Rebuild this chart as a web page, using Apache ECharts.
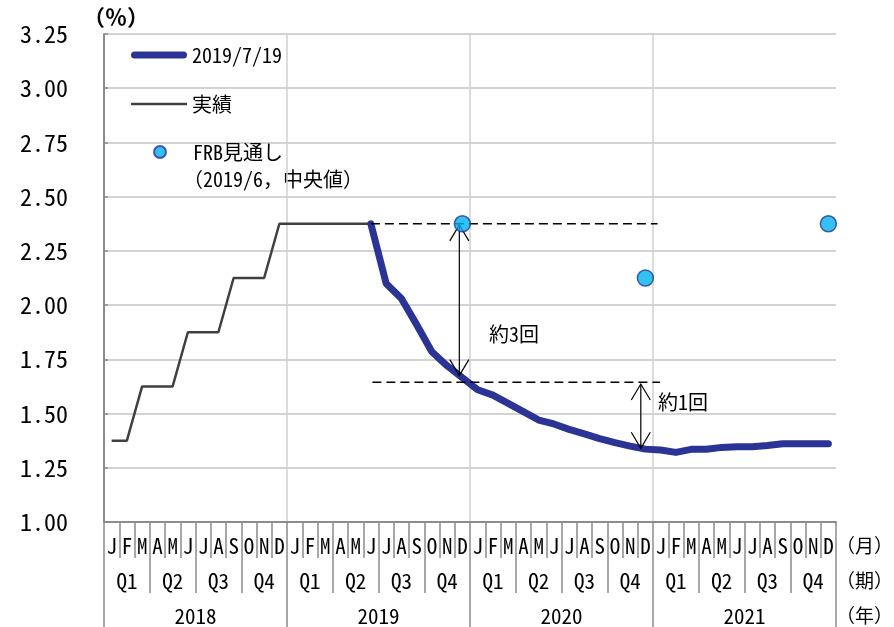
<!DOCTYPE html>
<html><head><meta charset="utf-8">
<script src="https://cdn.jsdelivr.net/npm/echarts@6/dist/echarts.min.js"></script>
<style>html,body{margin:0;padding:0;background:#fff}#c{width:894px;height:627px}</style>
</head><body><div id="c"></div>
<script>
// ---- data ----
const monthLetters = ['J','F','M','A','M','J','J','A','S','O','N','D'];
const quarterLabels = ['Q1','Q2','Q3','Q4'];
const yearLabels = ['2018','2019','2020','2021'];
// 実績: Jan 2018 - Jun 2019
const actualRates = [1.375,1.375,1.625,1.625,1.625,1.875,1.875,1.875,2.125,2.125,2.125,2.375,
                     2.375,2.375,2.375,2.375,2.375,2.375];
// 2019/7/19 path: Jun 2019 - Dec 2021
const futuresStart = '2019-06';
const futuresPath = [2.375,2.10,2.03,1.91,1.785,1.72,1.665,
                     1.61,1.585,1.547,1.509,1.47,1.452,1.427,1.406,1.384,1.366,1.35,1.336,
                     1.332,1.321,1.335,1.335,1.344,1.347,1.347,1.353,1.361,1.361,1.361,1.361];
// FRB見通し (2019/6, 中央値): year-end values
const frbYears = ['2019','2020','2021'];
const frbValues = [2.375,2.125,2.375];
// annotations (x in months from Jan 2018, y in %)
const dashedLevels = [[17.5, 36.3, 2.375], [17.6, 36.45, 1.644]];
const arrowSpans = [[23.3, 2.37, 1.675], [35.2, 1.636, 1.34]];

// ---- build ----
const months = [], quarters = [];
yearLabels.forEach(y => {
  monthLetters.forEach((m, i) => months.push(y + '-' + String(i + 1).padStart(2, '0')));
  quarterLabels.forEach(q => quarters.push(y + q));
});
const actualData = months.map((m, i) => i < actualRates.length ? actualRates[i] : null);
const startIdx = months.indexOf(futuresStart);
const futuresData = months.map((m, i) => (i >= startIdx && i - startIdx < futuresPath.length) ? futuresPath[i - startIdx] : null);
const frbData = months.map(m => {
  const k = frbYears.indexOf(m.slice(0, 4));
  return (k >= 0 && m.slice(5) === '12') ? frbValues[k] : null;
});

const MONO = "'Noto Sans Mono CJK JP','Liberation Mono','Noto Sans CJK JP',monospace";
const axisGray = '#8c8c8c';
const BLUE = '#2B3494';

const legendBase = {
  orient: 'vertical', left: 131, padding: 0,
  itemWidth: 56, itemHeight: 12,
  textStyle: { fontFamily: MONO, fontSize: 20, color: '#000' }
};

const chart = echarts.init(document.getElementById('c'));
chart.setOption({
  animation: false,
  backgroundColor: '#fff',
  grid: { left: 104, right: 58, top: 34, bottom: 105 },
  legend: [
    Object.assign({}, legendBase, { top: 45, data: [
      { name: '2019/7/19', icon: 'path://M3.5,0 H52.5 A3.5,3.5 0 0 1 52.5,7 H3.5 A3.5,3.5 0 0 1 3.5,0 Z',
        itemStyle: { color: BLUE } } ] }),
    Object.assign({}, legendBase, { top: 94, data: [
      { name: '実績', icon: 'path://M0,0 H52 V2.5 H0 Z', itemStyle: { color: '#404040' } } ] }),
    Object.assign({}, legendBase, { top: 142, left: 153, data: [ { name: 'FRB見通し' } ] })
  ],
  xAxis: [
    { type: 'category', data: months, position: 'bottom', boundaryGap: true,
      axisLine: { show: true, lineStyle: { color: axisGray, width: 2 } },
      axisTick: { show: true, interval: 0, length: 36, lineStyle: { color: axisGray, width: 1.5 } },
      axisLabel: { show: true, interval: 0, margin: 14, fontFamily: MONO, fontSize: 21, color: '#000',
        formatter: v => monthLetters[+v.slice(5) - 1] },
      splitLine: { show: false } },
    { type: 'category', data: quarters, position: 'bottom', boundaryGap: true,
      axisLine: { show: false },
      axisTick: { show: true, interval: 0, length: 71, lineStyle: { color: axisGray, width: 1.5 } },
      axisLabel: { show: true, interval: 0, margin: 49, fontFamily: MONO, fontSize: 21, color: '#000',
        formatter: v => v.slice(4) },
      splitLine: { show: false } },
    { type: 'category', data: yearLabels, position: 'bottom', boundaryGap: true,
      axisLine: { show: false },
      axisTick: { show: true, interval: 0, length: 110, lineStyle: { color: axisGray, width: 1.5 } },
      axisLabel: { show: true, interval: 0, margin: 84, fontFamily: MONO, fontSize: 21, color: '#000' },
      splitLine: { show: false } },
    { type: 'value', min: 0, max: 48, interval: 12, position: 'bottom',
      axisLine: { show: false }, axisTick: { show: false }, axisLabel: { show: false },
      splitLine: { show: true, showMinLine: false, showMaxLine: false,
        lineStyle: { color: '#d0d0d0', width: 1.5 } } }
  ],
  yAxis: {
    type: 'value', min: 1, max: 3.25, interval: 0.25,
    axisLine: { show: true, lineStyle: { color: axisGray, width: 2 } },
    axisTick: { show: true, inside: true, length: 4, lineStyle: { color: axisGray, width: 1.5 } },
    axisLabel: { show: true, margin: 36, fontFamily: MONO, fontSize: 24, color: '#000',
      formatter: v => v.toFixed(2) },
    splitLine: { show: true, lineStyle: { color: '#c4c4c4', width: 1.5 } }
  },
  series: [
    { name: '2019/7/19', type: 'line', xAxisIndex: 0, data: futuresData, symbol: 'none',
      lineStyle: { color: BLUE, width: 7, cap: 'round', join: 'round' },
      itemStyle: { color: BLUE }, z: 3 },
    { name: '実績', type: 'line', xAxisIndex: 0, data: actualData, symbol: 'none',
      lineStyle: { color: '#404040', width: 2.5 }, itemStyle: { color: '#404040' }, z: 2 },
    { type: 'custom', xAxisIndex: 3, yAxisIndex: 0, data: dashedLevels, z: 4, silent: true,
      renderItem: (p, api) => {
        const a = api.coord([api.value(0), api.value(2)]);
        const b = api.coord([api.value(1), api.value(2)]);
        return { type: 'line', shape: { x1: a[0], y1: a[1], x2: b[0], y2: b[1] },
          style: { stroke: '#000', lineWidth: 1.6, lineDash: [9, 5] } };
      } },
    { type: 'custom', xAxisIndex: 3, yAxisIndex: 0, data: arrowSpans, z: 4, silent: true,
      renderItem: (p, api) => {
        const a = api.coord([api.value(0), api.value(1)]);
        const b = api.coord([api.value(0), api.value(2)]);
        const hw = 9.5, hh = 16, st = { stroke: '#000', fill: null, lineWidth: 1.2 };
        return { type: 'group', children: [
          { type: 'line', shape: { x1: a[0], y1: a[1], x2: b[0], y2: b[1] }, style: st },
          { type: 'polyline', shape: { points: [[a[0]-hw, a[1]+hh], [a[0], a[1]], [a[0]+hw, a[1]+hh]] }, style: st },
          { type: 'polyline', shape: { points: [[b[0]-hw, b[1]-hh], [b[0], b[1]], [b[0]+hw, b[1]-hh]] }, style: st }
        ] };
      } },
    { name: 'FRB見通し', type: 'scatter', xAxisIndex: 0, data: frbData, symbol: 'circle', symbolSize: 16,
      itemStyle: { color: '#00B0F0', borderColor: BLUE, borderWidth: 1.5 }, z: 5 }
  ],
  graphic: [
    { type: 'text', left: 83, top: 6, style: { text: '（％）', font: "bold 22px 'Noto Sans CJK JP'", fill: '#000' } },
    { type: 'text', left: 183, top: 169, style: { text: '（2019/6，中央値）', font: "20px 'Noto Sans Mono CJK JP','Noto Sans CJK JP'", fill: '#000' } },
    { type: 'text', left: 489, top: 324, style: { text: '約3回', font: "20px 'Noto Sans Mono CJK JP','Noto Sans CJK JP'", fill: '#000' } },
    { type: 'text', left: 658, top: 392, style: { text: '約1回', font: "20px 'Noto Sans Mono CJK JP','Noto Sans CJK JP'", fill: '#000' } },
    { type: 'text', left: 836, top: 536, style: { text: '（月）', font: "19px 'Noto Sans CJK JP'", fill: '#000' } },
    { type: 'text', left: 836, top: 571, style: { text: '（期）', font: "19px 'Noto Sans CJK JP'", fill: '#000' } },
    { type: 'text', left: 836, top: 606, style: { text: '（年）', font: "19px 'Noto Sans CJK JP'", fill: '#000' } }
  ]
});
</script></body></html>
